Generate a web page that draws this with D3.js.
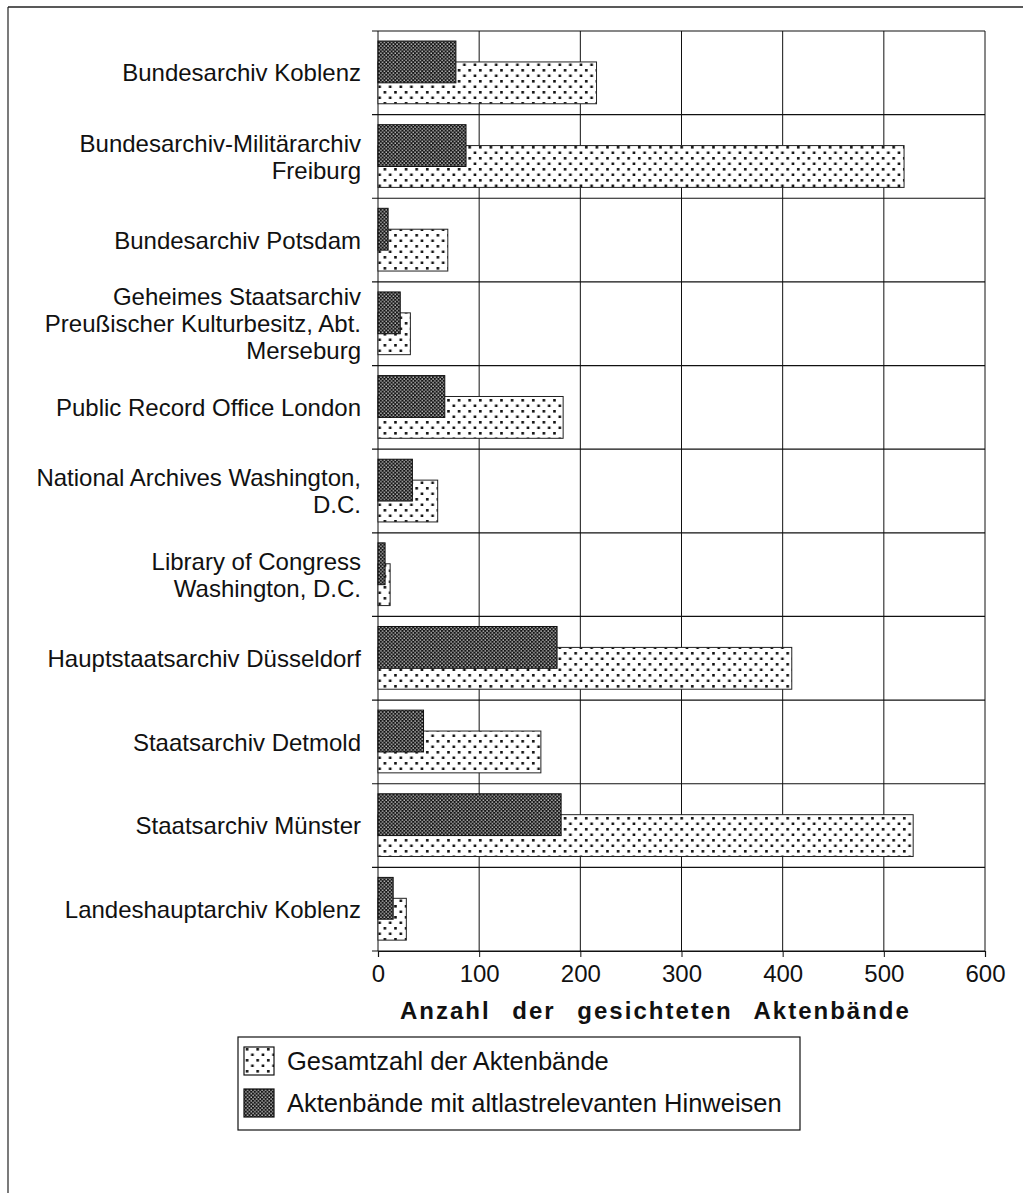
<!DOCTYPE html>
<html>
<head>
<meta charset="utf-8">
<script src="https://cdn.jsdelivr.net/npm/d3@7"></script>
<style>
  body { margin: 0; background: #fff; }
  svg { display: block; }
  text { font-family: "Liberation Sans", Arial, Helvetica, sans-serif; fill: #111; }
</style>
</head>
<body>
<div id="chart"></div>
<script>
// Daten
const archives = [
  ["Bundesarchiv Koblenz"],
  ["Bundesarchiv-Militärarchiv", "Freiburg"],
  ["Bundesarchiv Potsdam"],
  ["Geheimes Staatsarchiv", "Preußischer Kulturbesitz, Abt.", "Merseburg"],
  ["Public Record Office London"],
  ["National Archives Washington,", "D.C."],
  ["Library of Congress", "Washington, D.C."],
  ["Hauptstaatsarchiv Düsseldorf"],
  ["Staatsarchiv Detmold"],
  ["Staatsarchiv Münster"],
  ["Landeshauptarchiv Koblenz"]
];
const gesamt = [216, 520, 69, 32, 183, 59, 12, 409, 161, 529, 28];
const relevant = [77, 87, 10, 22, 66, 34, 7, 177, 45, 181, 15];
const xTicks = [0, 100, 200, 300, 400, 500, 600];
const legendLabels = ["Gesamtzahl der Aktenbände", "Aktenbände mit altlastrelevanten Hinweisen"];
const axisTitle = "Anzahl der gesichteten Aktenbände";

const width = 1023;
const height = 1193;
const plotLeft = 378, plotRight = 985, plotTop = 31, plotBottom = 951;

const svg = d3.select("#chart").append("svg")
  .attr("width", width)
  .attr("height", height);

// Muster
const defs = svg.append("defs");
const dots = defs.append("pattern")
  .attr("id", "dots")
  .attr("patternUnits", "userSpaceOnUse")
  .attr("width", 10.6).attr("height", 11);
dots.append("rect").attr("width", 10.6).attr("height", 11).attr("fill", "#fff");
dots.append("rect").attr("x", 2).attr("y", 3).attr("width", 2.6).attr("height", 2.6).attr("fill", "#111");
dots.append("rect").attr("x", 7.3).attr("y", 8.5).attr("width", 2.6).attr("height", 2.6).attr("fill", "#111");

const dense = defs.append("pattern")
  .attr("id", "dense")
  .attr("patternUnits", "userSpaceOnUse")
  .attr("width", 3.6).attr("height", 3.6);
dense.append("rect").attr("width", 3.6).attr("height", 3.6).attr("fill", "#151515");
dense.append("rect").attr("x", 0.4).attr("y", 0.4).attr("width", 1.3).attr("height", 1.3).attr("fill", "#f2f2f2");
dense.append("rect").attr("x", 2.2).attr("y", 2.2).attr("width", 1.3).attr("height", 1.3).attr("fill", "#f2f2f2");

// Rahmen
svg.append("line").attr("x1", 8).attr("x2", width).attr("y1", 7).attr("y2", 7)
  .attr("stroke", "#222").attr("stroke-width", 1.5);
svg.append("line").attr("x1", 8).attr("x2", 8).attr("y1", 7).attr("y2", height)
  .attr("stroke", "#222").attr("stroke-width", 1.2);

// Skalen
const x = d3.scaleLinear().domain([0, 600]).range([plotLeft, plotRight]);
const y = d3.scaleBand().domain(d3.range(archives.length)).range([plotTop, plotBottom]);
const bw = y.bandwidth();

const g = svg.append("g");

// Gitter
g.selectAll(".vgrid").data(xTicks).enter().append("line")
  .attr("x1", d => x(d)).attr("x2", d => x(d))
  .attr("y1", plotTop).attr("y2", plotBottom)
  .attr("stroke", "#111").attr("stroke-width", 1);

const rowEdges = d3.range(archives.length + 1).map(i => plotTop + i * bw);
g.selectAll(".hgrid").data(rowEdges).enter().append("line")
  .attr("x1", plotLeft - 6).attr("x2", plotRight)
  .attr("y1", d => d).attr("y2", d => d)
  .attr("stroke", "#111").attr("stroke-width", 1.2);

// Balken: Gesamtzahl (unten) und relevante (oben)
g.selectAll(".gesamt").data(gesamt).enter().append("rect")
  .attr("x", x(0))
  .attr("y", (d, i) => y(i) + bw * 0.37)
  .attr("width", d => x(d) - x(0))
  .attr("height", bw * 0.5)
  .attr("fill", "url(#dots)")
  .attr("stroke", "#222").attr("stroke-width", 1);

g.selectAll(".relevant").data(relevant).enter().append("rect")
  .attr("x", x(0))
  .attr("y", (d, i) => y(i) + bw * 0.12)
  .attr("width", d => x(d) - x(0))
  .attr("height", bw * 0.5)
  .attr("fill", "url(#dense)")
  .attr("stroke", "#111").attr("stroke-width", 1);

// Achse unten
const xAxis = d3.axisBottom(x).tickValues(xTicks).tickSize(6).tickPadding(8);
const ax = svg.append("g").attr("transform", `translate(0,${plotBottom})`).call(xAxis);
ax.select(".domain").attr("stroke", "#111").attr("stroke-width", 1.2);
ax.selectAll(".tick line").attr("stroke", "#111");
ax.selectAll("text").style("font-size", "24px").attr("fill", "#111")
  .style("font-family", "'Liberation Sans', Arial, sans-serif");

// Beschriftungen links
const lineH = 27;
archives.forEach((lines, i) => {
  const cy = y(i) + bw / 2;
  const t = svg.append("text")
    .attr("text-anchor", "end")
    .attr("y", cy - (lines.length - 1) * lineH / 2)
    .style("font-size", "24px");
  lines.forEach((l, j) => {
    t.append("tspan").attr("x", 361).attr("dy", j === 0 ? "0.36em" : lineH).text(l);
  });
});

// Achsentitel
svg.append("text")
  .attr("x", 400).attr("y", 1019)
  .style("font-size", "24px").style("font-weight", "bold")
  .style("word-spacing", "13px").style("letter-spacing", "2px")
  .text(axisTitle);

// Legende
const leg = svg.append("g");
leg.append("rect").attr("x", 238).attr("y", 1037).attr("width", 562).attr("height", 93)
  .attr("fill", "#fff").attr("stroke", "#111").attr("stroke-width", 1.2);
const legFills = ["url(#dots)", "url(#dense)"];
legendLabels.forEach((l, i) => {
  const yy = 1047 + i * 42;
  leg.append("rect").attr("x", 244).attr("y", yy).attr("width", 30).attr("height", 28)
    .attr("fill", legFills[i]).attr("stroke", "#111").attr("stroke-width", 1.2);
  leg.append("text").attr("x", 287).attr("y", yy + 14).attr("dy", "0.36em")
    .style("font-size", "25.5px").text(l);
});
</script>
</body>
</html>
